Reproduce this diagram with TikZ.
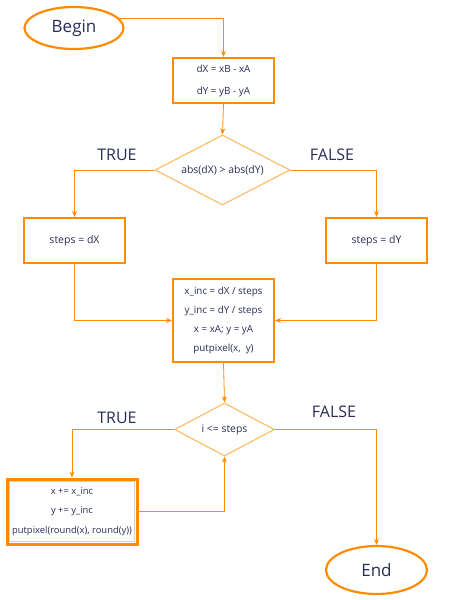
\documentclass[tikz,border=0pt]{standalone}
\usepackage{fontspec}
\setmainfont{Open Sans}
\usetikzlibrary{shapes.geometric,arrows.meta}
\definecolor{org}{RGB}{255,140,0}
\definecolor{lorg}{RGB}{255,190,110}
\definecolor{txt}{RGB}{40,45,85}
\begin{document}
\begin{tikzpicture}[x=1pt,y=-1pt,
  every node/.style={text=txt,inner sep=0pt},
  term/.style={draw=org,line width=2.2pt,ellipse,font=\fontsize{17}{20}\selectfont},
  proc/.style={draw=org,line width=2.2pt,rectangle,align=center},
  dec/.style={draw=lorg,line width=1.2pt,diamond,font=\fontsize{10.4}{12}\selectfont},
  lab/.style={font=\fontsize{16}{18}\selectfont},
  conn/.style={draw=org,line width=0.8pt,-{Stealth[length=6pt,width=5pt]}}]
\useasboundingbox (0,0) rectangle (460,600);
\node[term,minimum width=99pt,minimum height=42pt] (begin) at (74,28) {Begin};
\node[proc,minimum width=101pt,minimum height=45pt,font=\fontsize{9.9}{22}\selectfont] (b1) at (223.5,80.5) {dX = xB - xA\\dY = yB - yA};
\node[dec,minimum width=135pt,minimum height=70pt,aspect=1.9] (d1) at (222.5,170) {abs(dX) > abs(dY)};
\node[proc,minimum width=101pt,minimum height=45pt,font=\fontsize{10.5}{12}\selectfont] (sx) at (74.5,240.5) {steps = dX};
\node[proc,minimum width=101pt,minimum height=45pt,font=\fontsize{10.5}{12}\selectfont] (sy) at (376.5,240.5) {steps = dY};
\node[proc,minimum width=101pt,minimum height=83pt,font=\fontsize{9.8}{19}\selectfont] (b3) at (223.5,320.5) {x\_inc = dX / steps\\y\_inc = dY / steps\\x = xA; y = yA\\putpixel(x,\ \ y)};
\node[dec,minimum width=100pt,minimum height=53pt,aspect=1.9] (d2) at (224.5,429.5) {i <= steps};
\node[draw=org,line width=3pt,rectangle,minimum width=130pt,minimum height=65pt] (b4) at (72,511.5) {};
\node[draw=black!18,line width=0.4pt,rectangle,minimum width=125pt,minimum height=60pt,font=\fontsize{9.4}{19.5}\selectfont,align=center] (b4t) at (72,511.5) {x += x\_inc\\y += y\_inc\\putpixel(round(x), round(y))};
\node[term,minimum width=101pt,minimum height=48pt] (end) at (376.5,570) {End};
\node[lab] (t1) at (117,155) {TRUE};
\node[lab] (f1) at (332,155) {FALSE};
\node[lab] (t2) at (117,418) {TRUE};
\node[lab] (f2) at (334,412) {FALSE};
\draw[conn] (begin.12) -| (b1.north);
\draw[conn] (b1.south) -- (d1.north);
\draw[conn] (d1.west) -| (sx.north);
\draw[conn] (d1.east) -| (sy.north);
\draw[conn] (sx.south) |- (b3.west);
\draw[conn] (sy.south) |- (b3.east);
\draw[conn] (b3.south) -- (d2.north);
\draw[conn] (d2.west) -| (b4.north);
\draw[conn] (b4.east) -| (d2.south);
\draw[conn] (d2.east) -| (end.north);
\end{tikzpicture}
\end{document}
